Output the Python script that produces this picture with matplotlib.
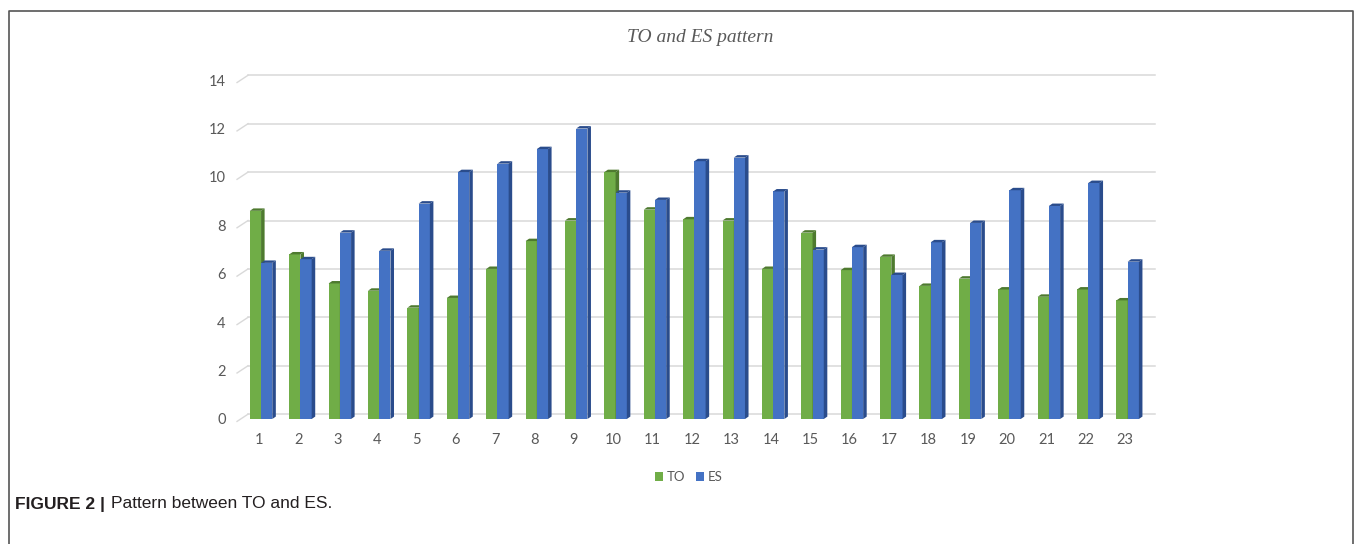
import matplotlib
matplotlib.use("Agg")
import matplotlib.pyplot as plt
from matplotlib.patches import Polygon, Rectangle, Patch
from matplotlib.lines import Line2D

# data
categories = list(range(1, 24))
to_values = [8.6, 6.8, 5.6, 5.3, 4.6, 5.0, 6.2, 7.35, 8.2, 10.2, 8.65, 8.25,
             8.2, 6.2, 7.7, 6.15, 6.7, 5.5, 5.8, 5.35, 5.05, 5.35, 4.9]
es_values = [6.45, 6.6, 7.7, 6.95, 8.9, 10.2, 10.55, 11.15, 12.0, 9.35, 9.05, 10.65,
             10.8, 9.4, 7.0, 7.1, 5.95, 7.3, 8.1, 9.45, 8.8, 9.75, 6.5]
y_ticks = [0, 2, 4, 6, 8, 10, 12, 14]

GREEN = "#70ad47"
GREEN_DARK = "#4e7a2f"
BLUE = "#4472c4"
BLUE_DARK = "#2a4c8c"
TEXT = "#595959"

W, H = 1355, 544
fig = plt.figure(figsize=(W / 100, H / 100), dpi=100)

# axes placed in pixel terms of the reference
left, right, bottom, top = 239, 1145, 419, 68
ax = fig.add_axes([left / W, 1 - bottom / H, (right - left) / W, (bottom - top) / H])
ax.set_xlim(0.5, 23.5)
ax.set_ylim(0, 14.5)
for s in ax.spines.values():
    s.set_visible(False)

bar_w = 0.285
shift = 0.06        # bars sit a little right of the labels
dx, dy = 0.09, 0.1  # fake depth of the 3D bars
wall = 0.2          # back-wall offset of the gridlines


def draw_bar(x0, h, face, side):
    x1 = x0 + bar_w
    ax.add_patch(Rectangle((x0, 0), bar_w, h, facecolor=face, edgecolor="none", zorder=3))
    ax.add_patch(Polygon([(x1, 0), (x1 + dx, dy), (x1 + dx, h + dy), (x1, h)],
                         closed=True, facecolor=side, edgecolor="none", zorder=3))
    ax.add_patch(Polygon([(x0, h), (x1, h), (x1 + dx, h + dy), (x0 + dx, h + dy)],
                         closed=True, facecolor=side, edgecolor="none", zorder=3))


# gridlines on the back wall, with short slanted ticks towards the labels
for t in y_ticks:
    ax.add_line(Line2D([0.5 + wall + 0.03, 23.75], [t + wall, t + wall], color="#d9d9d9",
                       lw=1.1, zorder=1, clip_on=False))
    ax.add_line(Line2D([0.45, 0.5 + wall + 0.03], [t - 0.1, t + wall], color="#d9d9d9",
                       lw=1.0, zorder=1, clip_on=False))

for c, to, es in zip(categories, to_values, es_values):
    draw_bar(c + shift - bar_w, to, GREEN, GREEN_DARK)
    draw_bar(c + shift, es, BLUE, BLUE_DARK)

ax.set_xticks(categories)
ax.set_xticklabels([str(c) for c in categories])
ax.set_yticks(y_ticks)
ax.set_yticklabels([str(t) for t in y_ticks])
ax.tick_params(axis="both", length=0, colors=TEXT, labelsize=10.5)
ax.tick_params(axis="x", pad=10)
ax.tick_params(axis="y", pad=9.5)
for lab in ax.get_xticklabels() + ax.get_yticklabels():
    lab.set_fontfamily("Lato")

fig.text(700 / W, 1 - 38 / H, "TO and ES pattern", ha="center", va="center",
         fontsize=14, fontstyle="italic", family="Liberation Serif", color=TEXT)

handles = [Patch(facecolor=GREEN, label="TO"), Patch(facecolor=BLUE, label="ES")]
fig.legend(handles=handles, loc="center", bbox_to_anchor=(689 / W, 1 - 477 / H), ncol=2,
           frameon=False, handlelength=0.6, handleheight=0.6, handletextpad=0.3,
           columnspacing=0.8, prop={"family": "Lato", "size": 9.5}, labelcolor=TEXT)

# caption
cap1 = fig.text(15 / W, 1 - 504 / H, "FIGURE 2 |", ha="left", va="center", fontsize=12.5,
                fontweight="bold", family="Liberation Sans", color="#231f20")
fig.canvas.draw()
ext = cap1.get_window_extent(fig.canvas.get_renderer())
fig.text((ext.x1 + 6) / W, 1 - 504 / H, "Pattern between TO and ES.", ha="left",
         va="center", fontsize=12.5, family="Liberation Sans", color="#231f20")

# frame around the figure (open at the bottom)
fig.add_artist(Line2D([9 / W, 9 / W, 1353 / W, 1353 / W], [0, 1 - 11 / H, 1 - 11 / H, 0],
                      transform=fig.transFigure, color="#555555", lw=1.2))

fig.savefig("out.png", dpi=100)
